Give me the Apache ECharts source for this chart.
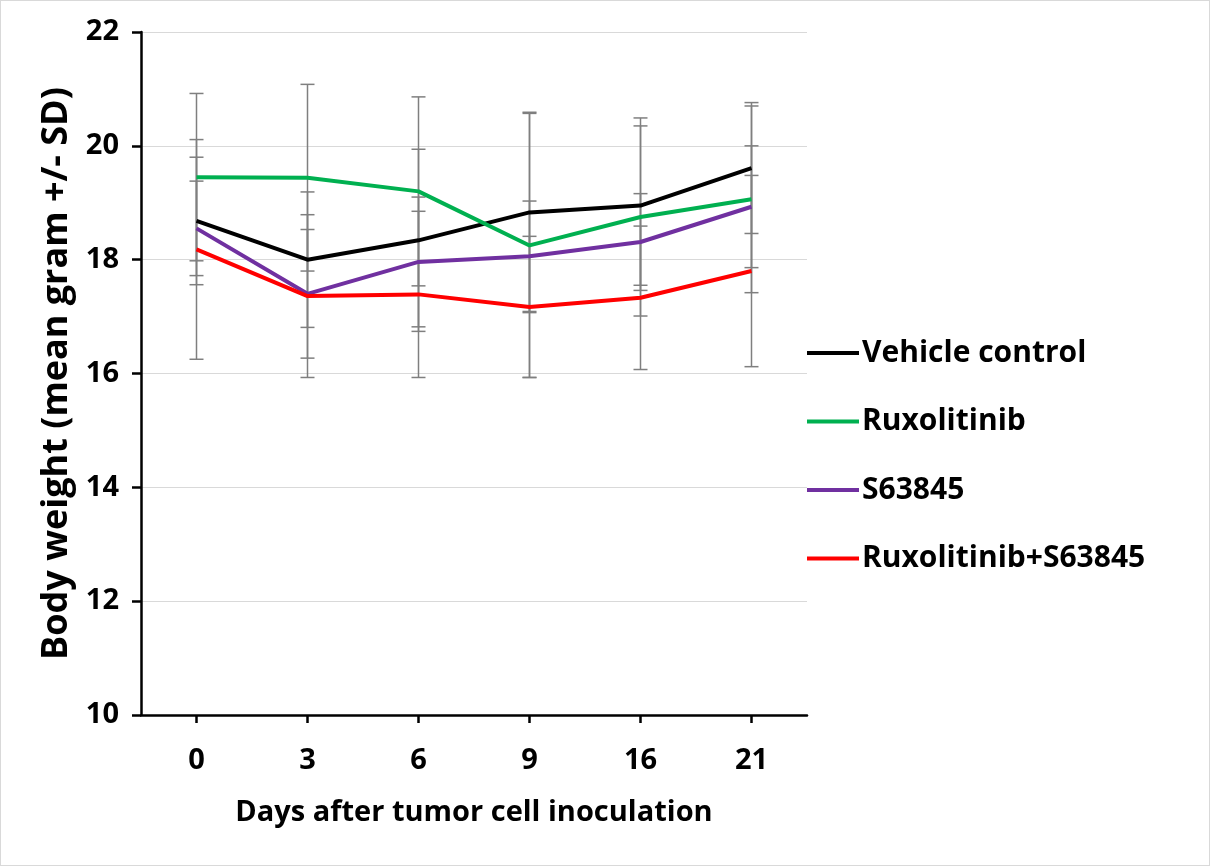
<!DOCTYPE html>
<html>
<head>
<meta charset="utf-8">
<script src="https://cdn.jsdelivr.net/npm/echarts@6/dist/echarts.min.js"></script>
<style>
  html, body { margin: 0; padding: 0; background: #fff; }
  #chart { width: 1210px; height: 866px; box-sizing: border-box; border: 1px solid #d9d9d9; }
</style>
</head>
<body>
<div id="chart"></div>
<script>
const days = ['0', '3', '6', '9', '16', '21'];
const seriesNames = ['Vehicle control', 'Ruxolitinib', 'S63845', 'Ruxolitinib+S63845'];
const vehicleMean = [18.68, 18.00, 18.34, 18.83, 18.95, 19.61];
const vehicleSD   = [1.12, 1.19, 1.60, 1.76, 1.40, 1.15];
const ruxMean     = [19.45, 19.44, 19.20, 18.25, 18.75, 19.06];
const ruxSD       = [1.47, 1.64, 1.66, 2.32, 1.74, 1.64];
const s63Mean     = [18.55, 17.40, 17.96, 18.06, 18.31, 18.93];
const s63SD       = [0.83, 1.13, 1.14, 0.97, 0.85, 1.07];
const comboMean   = [18.18, 17.36, 17.39, 17.17, 17.33, 17.80];
const comboSD     = [1.93, 1.43, 1.46, 1.24, 1.26, 1.68];
const yTicks = { min: 10, max: 22, interval: 2 };

const colors = ['#000000', '#00B050', '#7030A0', '#FF0000'];
const means = [vehicleMean, ruxMean, s63Mean, comboMean];
const sds = [vehicleSD, ruxSD, s63SD, comboSD];
const FONT = '"Open Sans", "Noto Sans", sans-serif';

const chart = echarts.init(document.getElementById('chart'), null, { renderer: 'canvas' });

function errorSeries(idx) {
  const data = days.map((d, i) => [i, means[idx][i] - sds[idx][i], means[idx][i] + sds[idx][i]]);
  return {
    type: 'custom',
    name: seriesNames[idx] + ' SD',
    z: 1,
    silent: true,
    data: data,
    encode: { x: 0, y: [1, 2] },
    renderItem: function (params, api) {
      const x = api.value(0);
      const lo = api.coord([x, api.value(1)]);
      const hi = api.coord([x, api.value(2)]);
      const half = 7;
      const style = { stroke: '#7f7f7f', lineWidth: 1.5 };
      return {
        type: 'group',
        children: [
          { type: 'line', shape: { x1: hi[0], y1: hi[1], x2: lo[0], y2: lo[1] }, style: style },
          { type: 'line', shape: { x1: hi[0] - half, y1: hi[1], x2: hi[0] + half, y2: hi[1] }, style: style },
          { type: 'line', shape: { x1: lo[0] - half, y1: lo[1], x2: lo[0] + half, y2: lo[1] }, style: style }
        ]
      };
    }
  };
}

const lineSeries = seriesNames.map((n, i) => ({
  type: 'line',
  name: n,
  data: means[i],
  symbol: 'none',
  z: 3,
  lineStyle: { color: colors[i], width: 4 },
  itemStyle: { color: colors[i] }
}));

chart.setOption({
  animation: false,
  backgroundColor: '#ffffff',
  grid: { left: 140, top: 31, right: 402, bottom: 150, containLabel: false },
  legend: {
    data: seriesNames,
    orient: 'vertical',
    left: 801,
    top: 332,
    itemWidth: 52,
    itemHeight: 4,
    itemGap: 38.5,
    icon: 'rect',
    textStyle: { fontFamily: FONT, fontWeight: 'bold', fontSize: 30, color: '#000', lineHeight: 30, padding: [0, 0, 0, -2] }
  },
  xAxis: {
    type: 'category',
    data: days,
    boundaryGap: true,
    name: 'Days after tumor cell inoculation',
    nameLocation: 'middle',
    nameGap: 83,
    nameTextStyle: { fontFamily: FONT, fontWeight: 'bold', fontSize: 29, color: '#000' },
    axisLine: { lineStyle: { color: '#000', width: 2.5 } },
    axisTick: { show: true, alignWithLabel: true, length: 8, lineStyle: { color: '#000', width: 2.5 } },
    axisLabel: { fontFamily: FONT, fontWeight: 'bold', fontSize: 29, color: '#000', margin: 31 },
    splitLine: { show: false }
  },
  yAxis: {
    type: 'value',
    min: yTicks.min,
    max: yTicks.max,
    interval: yTicks.interval,
    name: 'Body weight (mean gram +/- SD)',
    nameLocation: 'middle',
    nameGap: 53,
    nameRotate: 90,
    nameTextStyle: { fontFamily: FONT, fontWeight: 'bold', fontSize: 36, color: '#000' },
    axisLine: { show: true, lineStyle: { color: '#000', width: 2.5 } },
    axisTick: { show: true, length: 9, lineStyle: { color: '#000', width: 2.5 } },
    axisLabel: { fontFamily: FONT, fontWeight: 'bold', fontSize: 29, color: '#000', margin: 22 },
    splitLine: { show: true, lineStyle: { color: '#d9d9d9', width: 1 } }
  },
  series: [0, 1, 2, 3].map(errorSeries).concat(lineSeries)
});
</script>
</body>
</html>
